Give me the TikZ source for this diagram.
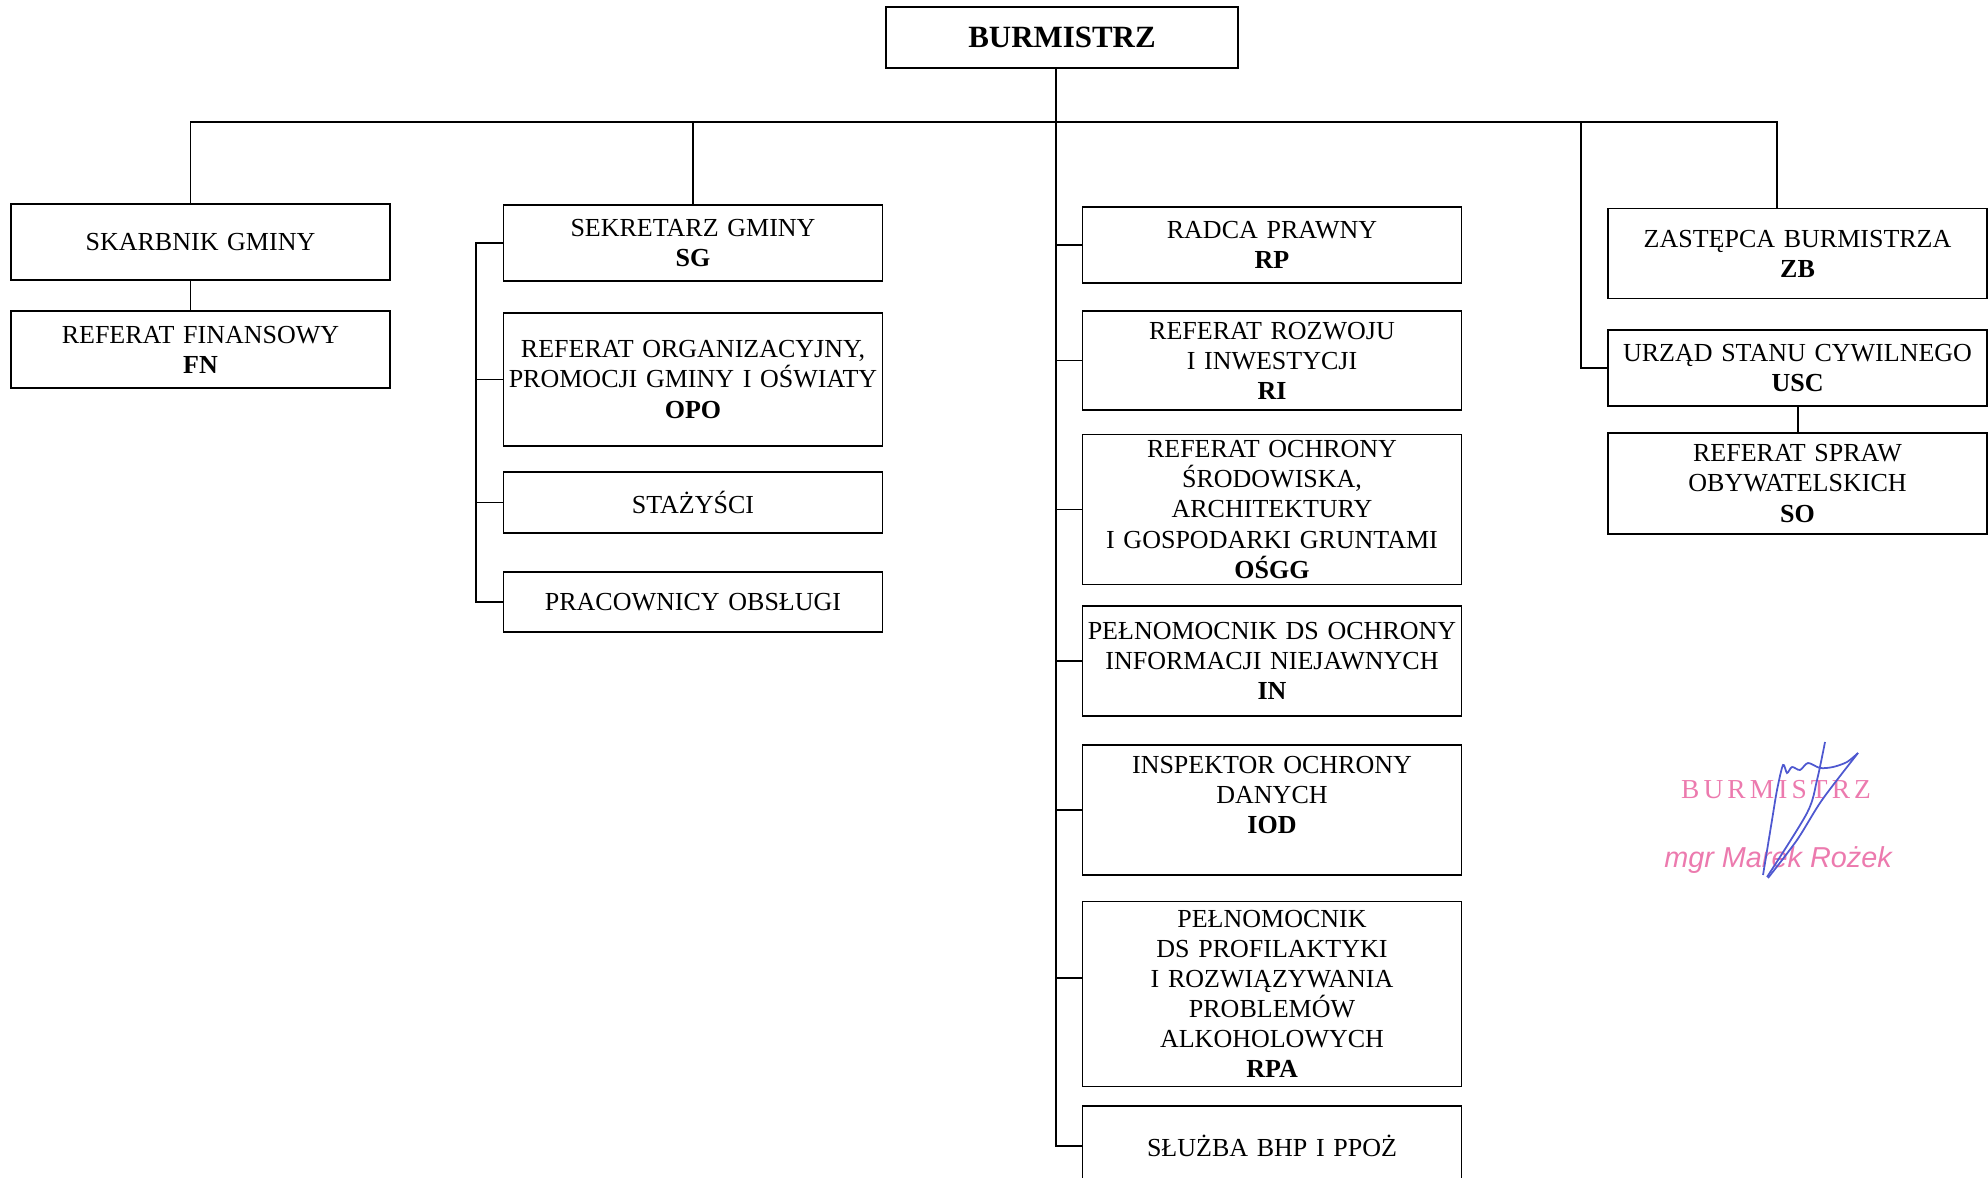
\documentclass[tikz,border=0pt]{standalone}
\usepackage{fontspec}
\setmainfont{Liberation Serif}
\newfontfamily\stampserif[LetterSpace=15]{Liberation Serif}
\newfontfamily\stampsans{Liberation Sans}
\definecolor{stamppink}{RGB}{236,122,174}
\definecolor{signblue}{RGB}{78,88,208}
\begin{document}
\begin{tikzpicture}[x=0.1mm,y=-0.1mm,line width=0.55pt,
    unit/.style={draw,align=center,inner sep=0pt,minimum width=37.9mm,
      text width=37.6mm,font=\fontsize{7.4}{8.55}\selectfont},
    stamp/.style={text=stamppink,inner sep=0pt}]
  \useasboundingbox (0,0) rectangle (1988,1178);
  \draw
    (1062,37.5) node[unit,minimum width=35.2mm,text width=34mm,minimum height=6.1mm,font=\fontsize{8.8}{10}\selectfont\bfseries] (bur){BURMISTRZ}
    (200.5,242) node[unit,minimum height=7.6mm] (skarb){SKARBNIK GMINY}
    (200.5,349.5) node[unit,minimum height=7.7mm] (fn){REFERAT FINANSOWY\\\textbf{FN}}
    (693,243) node[unit,minimum height=7.6mm] (sg){SEKRETARZ GMINY\\\textbf{SG}}
    (693,379.5) node[unit,minimum height=13.3mm] (opo){REFERAT ORGANIZACYJNY,\\PROMOCJI GMINY I OŚWIATY\\\textbf{OPO}}
    (693,502.5) node[unit,minimum height=6.1mm] (staz){STAŻYŚCI}
    (693,602) node[unit,minimum height=6.0mm] (prac){PRACOWNICY OBSŁUGI}
    (1272,245) node[unit,minimum height=7.6mm] (rp){RADCA PRAWNY\\\textbf{RP}}
    (1272,360.5) node[unit,minimum height=9.9mm] (ri){REFERAT ROZWOJU\\I INWESTYCJI\\\textbf{RI}}
    (1272,509.5) node[unit,minimum height=15mm] (osgg){REFERAT OCHRONY\\ŚRODOWISKA,\\ARCHITEKTURY\\I GOSPODARKI GRUNTAMI\\\textbf{OŚGG}}
    (1272,661) node[unit,minimum height=11mm] (in){PEŁNOMOCNIK DS OCHRONY\\INFORMACJI NIEJAWNYCH\\\textbf{IN}}
    (1272,810) node[unit,minimum height=13mm] (iod){INSPEKTOR OCHRONY\\DANYCH\\\textbf{IOD}\\\mbox{}}
    (1272,994) node[unit,minimum height=18.5mm] (rpa){PEŁNOMOCNIK\\DS PROFILAKTYKI\\I ROZWIĄZYWANIA\\PROBLEMÓW\\ALKOHOLOWYCH\\\textbf{RPA}}
    (1272,1146) node[unit,minimum height=8mm] (bhp){SŁUŻBA BHP I PPOŻ}
    (1797.5,253.5) node[unit,minimum height=9mm] (zb){ZASTĘPCA BURMISTRZA\\\textbf{ZB}}
    (1797.5,368) node[unit,minimum height=7.6mm] (usc){URZĄD STANU CYWILNEGO\\\textbf{USC}}
    (1797.5,483.5) node[unit,minimum height=10.1mm] (so){REFERAT SPRAW\\OBYWATELSKICH\\\textbf{SO}};
  \coordinate (bus) at (0,122);
  \coordinate (trunk) at ([xshift=-0.6mm]bur.south);
  \begin{scope}
    \draw ([xshift=-1mm]skarb.north) -- ([xshift=-1mm]skarb.north |- bus) -- ([xshift=-2.1mm]zb.north |- bus) -- ([xshift=-2.1mm]zb.north);
    \draw (sg.north) -- (sg.north |- bus);
    \draw ([xshift=-1mm]skarb.south) -- ([xshift=-1mm]fn.north);
    \draw (sg.west) -- ++(-27,0) coordinate (sgj) |- (prac.west);
    \draw (opo.west) -- (opo.west -| sgj);
    \draw (staz.west) -- (staz.west -| sgj);
    \draw (trunk) -- (trunk |- bhp.west) -- (bhp.west);
    \draw (rp.west) -- (rp.west -| trunk);
    \draw (ri.west) -- (ri.west -| trunk);
    \draw (osgg.west) -- (osgg.west -| trunk);
    \draw (in.west) -- (in.west -| trunk);
    \draw (iod.west) -- (iod.west -| trunk);
    \draw ([yshift=1.6mm]rpa.west) -- ([yshift=1.6mm]rpa.west -| trunk);
    \draw (usc.west) -- ++(-26,0) coordinate (uscj) -- (uscj |- bus);
    \draw (usc.south) -- (so.north);
  \end{scope}
  \node[stamp,font=\stampserif\fontsize{7.8}{9}\selectfont] (stamptitle) at (1776,790) {BURMISTRZ};
  \node[stamp,font=\stampsans\itshape\fontsize{8.2}{9}\selectfont] (stampname) at (1778,860) {mgr Marek Rożek};
  \draw[signblue,line width=0.5pt] plot[smooth] coordinates {(1763,875) (1772,820) (1777,790) (1783,765) (1787,773) (1792,767) (1800,770) (1808,763) (1820,768) (1833,767) (1847,762) (1858,753)};
  \draw[signblue,line width=0.5pt] plot[smooth] coordinates {(1825,742) (1817,780) (1807,813) (1767,877)};
  \draw[signblue,line width=0.5pt] plot[smooth] coordinates {(1858,753) (1822,800) (1797,840) (1768,878)};
\end{tikzpicture}
\end{document}
